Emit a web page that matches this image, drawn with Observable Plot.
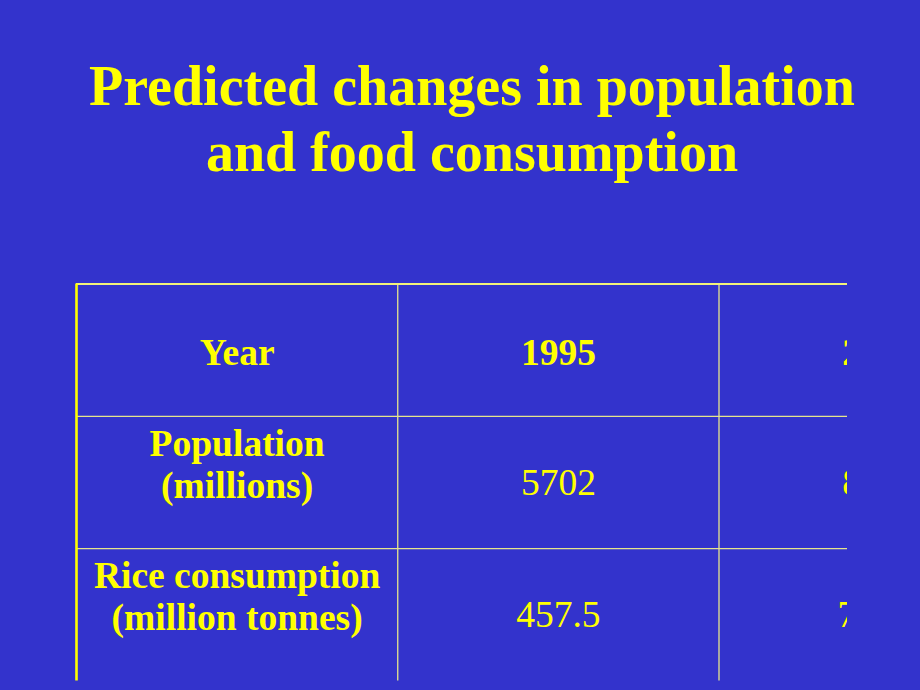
<!DOCTYPE html>
<html>
<head>
<meta charset="utf-8">
<script src="https://cdn.jsdelivr.net/npm/d3@7"></script>
<script src="https://cdn.jsdelivr.net/npm/@observablehq/plot@0.6"></script>
<style>
  html, body { margin: 0; padding: 0; background: #3333CC; width: 920px; height: 690px; overflow: hidden; }
  #title {
    height: 280px; box-sizing: border-box; margin: 0;
    padding-top: 53px; padding-left: 24px;
    text-align: center; color: #FFFF00;
    font: bold 56px/66px "Liberation Serif", "Times New Roman", serif;
  }
  #chart svg { display: block; }
</style>
</head>
<body>
<h1 id="title">Predicted changes in population<br>and food consumption</h1>
<div id="chart"></div>
<script>
// ---- data ----
const headerLabel = "Year";
const rowLabels = ["Population\n(millions)", "Rice consumption\n(million tonnes)"];
const years = ["1995", "2025"];
const population = [5702, 8312];
const rice = [457.5, 781.3];

// ---- tables built from the arrays ----
const nCols = years.length + 1;
const nRows = rowLabels.length + 1;
const header = [{col: 0, row: 0, text: headerLabel}]
  .concat(years.map((y, i) => ({col: i + 1, row: 0, text: y})));
const labels = rowLabels.map((t, i) => ({col: 0, row: i + 1, text: t}));
const values = []
  .concat(population.map((v, i) => ({col: i + 1, row: 1, text: String(v)})))
  .concat(rice.map((v, i) => ({col: i + 1, row: 2, text: String(v)})));

const yellow = "#FFFF00";
const lineColor = "#E6E68C";
const font = "Liberation Serif";
const fs = 37.5;

const chart = Plot.plot({
  width: 920,
  height: 410,
  marginLeft: 70,
  marginRight: 73,
  marginTop: 0,
  marginBottom: 0,
  style: {background: "transparent", overflow: "hidden"},
  x: {type: "linear", domain: [0, nCols], range: [76, 76 + nCols * 321.25], axis: null},
  y: {type: "linear", domain: [0, nRows], range: [3.5, 3.5 + nRows * 132.3], axis: null},
  marks: [
    // inner and right vertical lines
    Plot.ruleX(d3.range(1, nCols + 1), {y1: 0, y2: nRows, stroke: lineColor, strokeWidth: 1.3, clip: "frame"}),
    // inner horizontal lines
    Plot.ruleY(d3.range(1, nRows), {x1: 0, x2: nCols, stroke: lineColor, strokeWidth: 1.3, clip: "frame"}),
    // top border
    Plot.ruleY([0], {x1: 0, x2: nCols, stroke: "#F2F27A", strokeWidth: 2.2, clip: "frame"}),
    // left border
    Plot.ruleX([0], {y1: 0, y2: nRows, stroke: yellow, strokeWidth: 2.6, clip: "frame"}),
    // header row
    Plot.text(header, {x: d => d.col + 0.5, y: d => d.row, text: "text", lineAnchor: "top", dy: 54,
      fill: yellow, fontFamily: font, fontWeight: "bold", fontSize: fs, clip: "frame"}),
    // row labels
    Plot.text(labels, {x: d => d.col + 0.5, y: d => d.row, text: "text", lineAnchor: "top", dy: 10,
      lineHeight: 42 / fs, fill: yellow, fontFamily: font, fontWeight: "bold", fontSize: fs, clip: "frame"}),
    // values
    Plot.text(values, {x: d => d.col + 0.5, y: d => d.row, text: "text", lineAnchor: "top", dy: 52,
      fill: yellow, fontFamily: font, fontWeight: "normal", fontSize: fs, clip: "frame"})
  ]
});
document.getElementById("chart").appendChild(chart);
</script>
</body>
</html>
